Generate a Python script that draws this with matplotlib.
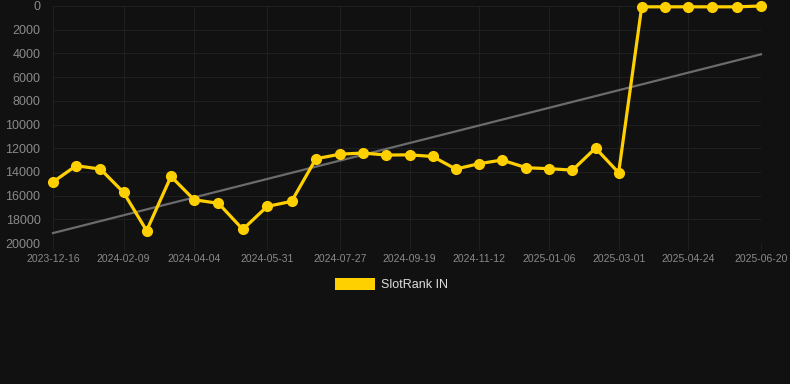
import matplotlib
matplotlib.use("Agg")
import matplotlib.pyplot as plt
import matplotlib.dates as mdates
import numpy as np
from datetime import datetime
from matplotlib.patches import Rectangle

dates = ["2023-12-16", "2024-01-03", "2024-01-22", "2024-02-09", "2024-02-27", "2024-03-17",
         "2024-04-04", "2024-04-23", "2024-05-12", "2024-05-31", "2024-06-19", "2024-07-08",
         "2024-07-27", "2024-08-14", "2024-09-01", "2024-09-19", "2024-10-07", "2024-10-25",
         "2024-11-12", "2024-11-30", "2024-12-19", "2025-01-06", "2025-01-24", "2025-02-11",
         "2025-03-01", "2025-03-19", "2025-04-06", "2025-04-24", "2025-05-13", "2025-06-01",
         "2025-06-20"]
ranks = [14850, 13480, 13760, 15730, 18960, 14380, 16350, 16650, 18850, 16910, 16490, 12890,
         12500, 12410, 12580, 12560, 12700, 13760, 13310, 13000, 13650, 13730, 13850, 11990,
         14070, 70, 70, 70, 70, 70, 1]
tick_labels = ["2023-12-16", "2024-02-09", "2024-04-04", "2024-05-31", "2024-07-27",
               "2024-09-19", "2024-11-12", "2025-01-06", "2025-03-01", "2025-04-24", "2025-06-20"]
series_name = "SlotRank IN"

x = mdates.date2num([datetime.strptime(d, "%Y-%m-%d") for d in dates])
y = np.array(ranks, dtype=float)
coef = np.polyfit(x, y, 1)
trend = np.polyval(coef, x[[0, -1]])

bg = "#111111"
fig = plt.figure(figsize=(7.9, 3.84), dpi=100, facecolor=bg)
ax = fig.add_axes([53/790, 1-243/384, (761-53)/790, (243-6)/384], facecolor=bg)

ax.plot(x[[0, -1]], trend, color="#6b6b6b", lw=1.6, zorder=2, clip_on=False)
ax.plot(x, y, color="#ffd000", lw=2.3, marker="o", markersize=7,
        markerfacecolor="#ffd000", markeredgecolor="#ffd000", zorder=3, clip_on=False,
        label=series_name)

ax.set_xlim(x[0], x[-1])
ax.set_ylim(20000, 0)
ax.set_yticks(np.arange(0, 20001, 2000))
tx = mdates.date2num([datetime.strptime(d, "%Y-%m-%d") for d in tick_labels])
ax.set_xticks(tx)
ax.set_xticklabels(tick_labels)

for s in ax.spines.values():
    s.set_visible(False)
ax.grid(True, color="#1f1f1f", lw=0.8)
ax.tick_params(axis="y", colors="#1f1f1f", labelcolor="#8a8a8a", labelsize=9, length=0, pad=9)
ax.tick_params(axis="x", colors="#1f1f1f", labelcolor="#8a8a8a", labelsize=7.5, length=5, pad=3)
for lab in ax.get_xticklabels() + ax.get_yticklabels():
    lab.set_fontfamily("Liberation Sans")

fig.patches.append(Rectangle((335/790, 1-290/384), 40/790, 12/384, transform=fig.transFigure,
                             facecolor="#ffd000", edgecolor="none"))
fig.text(381/790, 1-284.5/384, series_name, color="#dddddd", fontsize=9,
         fontfamily="Liberation Sans", va="center", ha="left")

fig.savefig("out.png", dpi=100, facecolor=bg)
